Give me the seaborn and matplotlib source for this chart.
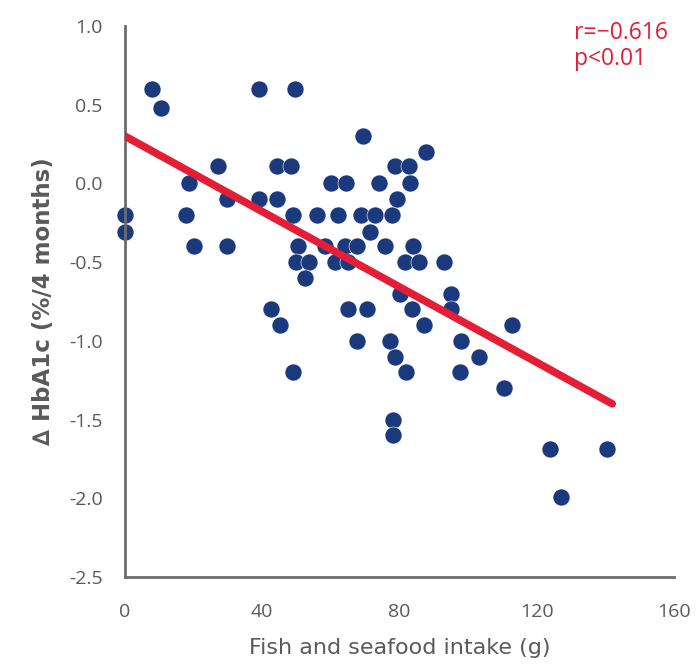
"""Fish and seafood intake vs change in HbA1c scatter with fitted line."""
import matplotlib
matplotlib.use("Agg")
import matplotlib.pyplot as plt
from matplotlib.ticker import FuncFormatter
import pandas as pd
import seaborn as sns

# values
fish_g = [0, 0, 7.8, 10.4, 18.6, 17.7, 20.0, 27.2, 29.6, 29.6,
          39.1, 49.6, 39.1, 44.3, 48.4, 44.3, 49.0, 50.4, 49.9, 53.6,
          52.5, 42.6, 45.2, 49.0, 55.9, 58.3, 60.0, 62.0, 61.2, 64.3,
          64.1, 64.9, 64.9, 67.5, 67.5, 69.3, 68.7, 71.3, 70.4, 73.0,
          73.9, 75.9, 77.1, 77.7, 78.6, 78.6, 79.4, 80.0, 81.7, 82.0,
          82.9, 83.2, 83.8, 85.8, 83.5, 87.0, 78.0, 78.0, 87.8, 93.0,
          95.1, 95.1, 98.0, 97.7, 103.2, 110.4, 112.8, 123.8, 127.0, 140.6]
hba1c_change = [-0.2, -0.31, 0.6, 0.48, 0.0, -0.2, -0.4, 0.11, -0.1, -0.4,
                0.6, 0.6, -0.1, 0.11, 0.11, -0.1, -0.2, -0.4, -0.5, -0.5,
                -0.6, -0.8, -0.9, -1.2, -0.2, -0.4, 0.0, -0.2, -0.5, 0.0,
                -0.4, -0.5, -0.8, -0.4, -1.0, 0.3, -0.2, -0.31, -0.8, -0.2,
                0.0, -0.4, -1.0, -0.2, 0.11, -1.1, -0.1, -0.7, -0.5, -1.2,
                0.11, 0.0, -0.4, -0.5, -0.8, -0.9, -1.5, -1.6, 0.2, -0.5,
                -0.7, -0.8, -1.0, -1.2, -1.1, -1.3, -0.9, -1.69, -1.99, -1.69]
fit_x = [0, 142]
fit_y = [0.30, -1.40]
x_ticks = [0, 40, 80, 120, 160]
y_ticks = [1.0, 0.5, 0.0, -0.5, -1.0, -1.5, -2.0, -2.5]

NAVY = "#1b3a7e"
RED = "#e31e36"
GREY = "#5a5a5a"
AXIS = "#6b6b6b"

sns.set_style("white")
plt.rcParams["font.family"] = ["Open Sans", "DejaVu Sans"]
plt.rcParams["axes.unicode_minus"] = False

df = pd.DataFrame({"fish": fish_g, "hba1c": hba1c_change})
fit = pd.DataFrame({"fish": fit_x, "hba1c": fit_y})

fig = plt.figure(figsize=(6.96, 6.66), dpi=100)
ax = fig.add_axes([0.1796, 0.1336, 0.7888, 0.8274])

sns.scatterplot(data=df, x="fish", y="hba1c", ax=ax, color=NAVY, s=150,
                edgecolor="white", linewidth=0.4, zorder=2, clip_on=False)
sns.lineplot(data=fit, x="fish", y="hba1c", ax=ax, color=RED, linewidth=5.5,
             solid_capstyle="round", zorder=3)

ax.set_xlim(0, 160)
ax.set_ylim(-2.5, 1.0)
ax.set_xticks(x_ticks)
ax.set_yticks(y_ticks)
ax.yaxis.set_major_formatter(FuncFormatter(lambda v, _: f"{v:.1f}".replace("\u2212", "-")))

for side in ("top", "right"):
    ax.spines[side].set_visible(False)
for side in ("left", "bottom"):
    ax.spines[side].set_color(AXIS)
    ax.spines[side].set_linewidth(2)

ax.tick_params(axis="x", direction="in", length=7, width=2, color=AXIS,
               labelsize=14, labelcolor=GREY, pad=19)
ax.tick_params(axis="y", direction="out", length=7, width=2, color=AXIS,
               labelsize=14, labelcolor=GREY, pad=9)

ax.set_xlabel("Fish and seafood intake (g)", fontsize=16, color=GREY,
              family="DejaVu Sans", labelpad=12)
ax.set_ylabel("\u2206 HbA1c (%/4 months)", fontsize=16.5, color=GREY,
              family="DejaVu Sans", fontweight="bold", labelpad=10)

fig.text(574 / 696, 1 - 21 / 666, "r=\u22120.616\np<0.01", color=RED,
         fontsize=16.5, va="top", ha="left", linespacing=1.12)

fig.savefig("out.png", dpi=100)
